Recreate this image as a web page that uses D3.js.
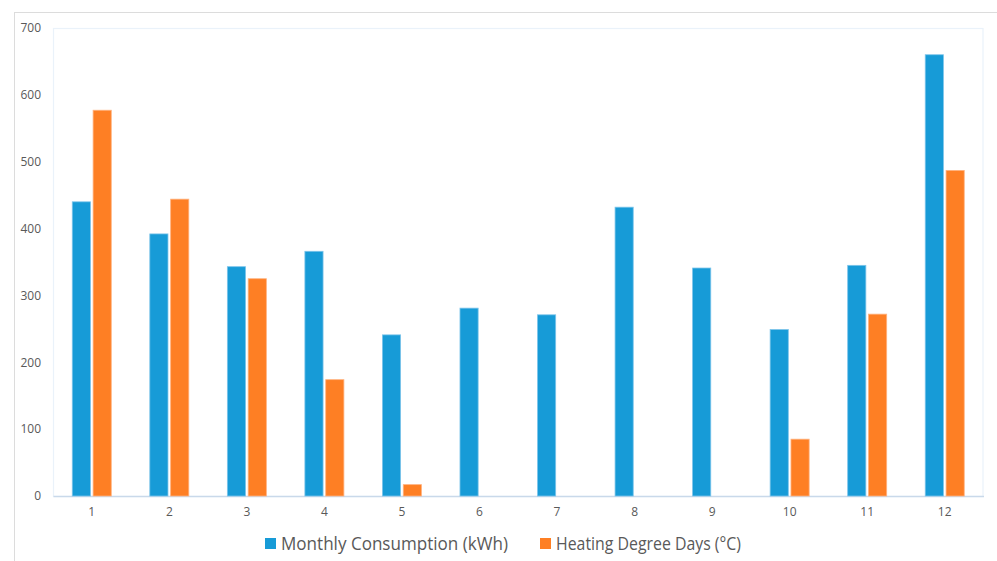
<!DOCTYPE html>
<html><head><meta charset="utf-8">
<script src="https://cdn.jsdelivr.net/npm/d3@7"></script>
<style>
html,body{margin:0;padding:0;background:#fff;}
svg{display:block;font-family:"Open Sans",sans-serif;}
</style></head>
<body>
<svg id="c" width="997" height="561"></svg>
<script>
const months = ["1","2","3","4","5","6","7","8","9","10","11","12"];
const consumption = [440, 392, 343, 366, 241, 281, 271, 432, 341, 249, 345, 660];
const hdd = [577, 444, 325, 174, 17, 0, 0, 0, 0, 85, 272, 487];
const yTicks = [0, 100, 200, 300, 400, 500, 600, 700];
const seriesNames = ["Monthly Consumption (kWh)", "Heating Degree Days (\u00B0C)"];
const colors = ["#179bd7", "#fe7f24"];
const strokes = ["#7cc4ea", "#ffb27f"];

const svg = d3.select("#c");
const L = 53, R = 983.5, T = 28, B = 496;

// outer frame
svg.append("rect").attr("x", 14.5).attr("y", 12.5).attr("width", 1000).attr("height", 1000)
  .attr("fill", "none").attr("stroke", "#dcdcdc").attr("stroke-width", 1);

// plot frame
svg.append("rect").attr("x", L + 0.5).attr("y", T + 0.5).attr("width", R - L - 1).attr("height", B - T)
  .attr("fill", "none").attr("stroke", "#eaf2fa").attr("stroke-width", 1.2);

const x = d3.scaleBand().domain(months).range([L, R]).paddingInner(0).paddingOuter(0);
const y = d3.scaleLinear().domain([0, 700]).range([B, T]);
const x1 = d3.scaleBand().domain([0, 1]).range([x.bandwidth()/2 - 19.5, x.bandwidth()/2 + 19.5]).paddingInner(5/39);

// y axis labels
const yAxis = d3.axisLeft(y).tickValues(yTicks).tickSize(0).tickPadding(12);
const gy = svg.append("g").attr("transform", `translate(${L},0)`).call(yAxis);
gy.select(".domain").remove();
gy.selectAll("text").attr("fill", "#595959").style("font-size", "12px").style("font-family", "Open Sans, sans-serif");

// x axis
const xAxis = d3.axisBottom(x).tickSize(0).tickPadding(11);
const gx = svg.append("g").attr("transform", `translate(0,${B})`).call(xAxis);
gx.select(".domain").attr("stroke", "#c9d9ea").attr("stroke-width", 1.5);
gx.selectAll("text").attr("fill", "#595959").style("font-size", "12px").style("font-family", "Open Sans, sans-serif");

const data = [consumption, hdd];
data.forEach((vals, si) => {
  svg.append("g").selectAll("rect").data(vals).join("rect")
    .attr("x", (d, i) => x(months[i]) + x1(si))
    .attr("width", x1.bandwidth())
    .attr("y", d => y(d))
    .attr("height", d => B - y(d))
    .attr("fill", colors[si])
    .attr("stroke", strokes[si])
    .attr("stroke-width", d => d > 0 ? 0.8 : 0);
});

// legend
const legendX = [265, 540];
const legendW = [227, 185];
seriesNames.forEach((name, i) => {
  const g = svg.append("g").attr("transform", `translate(${legendX[i]},538)`);
  g.append("rect").attr("width", 11).attr("height", 11).attr("fill", colors[i]);
  g.append("text").attr("x", 16).attr("y", 11.5).text(name)
    .attr("textLength", legendW[i]).attr("lengthAdjust", "spacingAndGlyphs")
    .attr("fill", "#595959").style("font-size", "17.5px");
});
</script>
</body></html>
